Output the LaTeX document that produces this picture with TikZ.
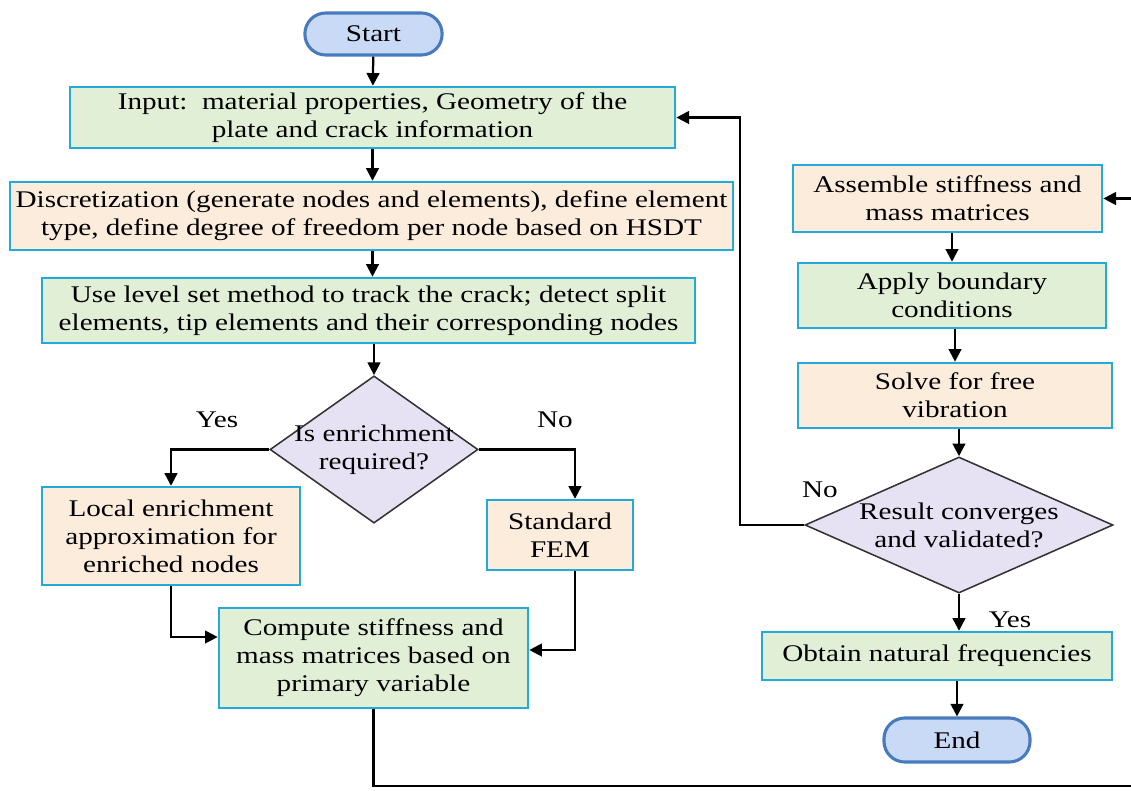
\documentclass[tikz,border=0pt]{standalone}
\usepackage{fontspec}
\setmainfont{Liberation Serif}[FakeStretch=1.22]
\usepackage{tikz}
\usetikzlibrary{shapes.geometric,arrows.meta,calc}
\definecolor{G}{RGB}{226,239,215}
\definecolor{P}{RGB}{252,236,220}
\definecolor{C}{RGB}{36,170,216}
\definecolor{D}{RGB}{230,226,243}
\definecolor{B}{RGB}{200,218,245}
\definecolor{BE}{RGB}{72,122,190}
\tikzset{
  base/.style={font=\fontsize{17}{20}\selectfont, align=center, inner sep=0pt},
  gbox/.style={base, draw=C, fill=G, line width=1.7pt},
  pbox/.style={base, draw=C, fill=P, line width=1.7pt},
  term/.style={base, draw=BE, fill=B, line width=2.2pt, rounded corners=0.52cm},
  dec/.style={base, diamond, draw=black!80, fill=D, line width=1.1pt},
  arr/.style={line width=1.6pt, -{Triangle[length=9pt,width=9pt]}},
  lbl/.style={base}
}

\begin{document}
\begin{tikzpicture}[x=0.025cm,y=-0.025cm]
\useasboundingbox (0,0) rectangle (1131,790);
% left column
\node[term, minimum width=3.43cm, minimum height=1.05cm] (start) at (373.5,34) {Start};
\node[gbox, minimum width=15.13cm, minimum height=1.53cm] (inp) at (372.5,117.5) {Input:\ \ material properties, Geometry of the\\plate and crack information};
\node[pbox, minimum width=18.08cm, minimum height=1.7cm] (disc) at (371.5,216) {Discretization (generate nodes and elements), define element\\type, define degree of freedom per node based on HSDT};
\node[gbox, minimum width=16.33cm, minimum height=1.63cm] (lvl) at (368.5,310.5) {Use level set method to track the crack; detect split\\elements, tip elements and their corresponding nodes};
\node[dec, minimum width=5.2cm, minimum height=3.68cm, label={[base]center:Is enrichment\\required?}] (enr) at (374,449.5) {};
\node[pbox, minimum width=6.45cm, minimum height=2.45cm] (loc) at (171,536) {Local enrichment\\approximation for\\enriched nodes};
\node[pbox, minimum width=3.65cm, minimum height=1.75cm] (fem) at (560,535) {Standard\\FEM};
\node[gbox, minimum width=7.73cm, minimum height=2.5cm] (cmp) at (373.5,658) {Compute stiffness and\\mass matrices based on\\primary variable};
\node[lbl] (yes1) at (217,420) {Yes};
\node[lbl] (no1) at (555,420) {No};
% right column
\node[pbox, minimum width=7.73cm, minimum height=1.68cm] (asm) at (947.5,198.5) {Assemble stiffness and\\mass matrices};
\node[gbox, minimum width=7.7cm, minimum height=1.63cm] (bc) at (952,295.5) {Apply boundary\\conditions};
\node[pbox, minimum width=7.85cm, minimum height=1.63cm] (slv) at (955,395.5) {Solve for free\\vibration};
\node[dec, minimum width=7.7cm, minimum height=3.4cm, label={[base]center:Result converges\\and validated?}] (cnv) at (959,525) {};
\node[gbox, minimum width=8.75cm, minimum height=1.2cm] (frq) at (937,656) {Obtain natural frequencies};
\node[term, minimum width=3.65cm, minimum height=1.1cm] (end) at (957,740) {End};
\node[lbl] (no2) at (820,490) {No};
\node[lbl] (yes2) at (1010,620) {Yes};
\coordinate (back) at (740,0);
\coordinate (low) at (0,786);
\coordinate (edge) at (1150,0);
% connectors
\draw[arr] (start) -- (inp);
\draw[arr] (inp) -- (inp |- disc.north);
\draw[arr] (disc.south -| inp) -- (lvl.north -| inp);
\draw[arr] (lvl.south -| enr) -- (enr.north);
\draw[arr] (enr.west) -| (loc.north);
\draw[arr] (enr.east) -| ($(fem.north)+(15,0)$);
\draw[arr] (loc.south) |- ($(cmp.west)+(0,-21)$);
\draw[arr] ($(fem.south)+(15,0)$) |- ($(cmp.east)+(0,-8)$);
\draw[arr] (cmp.south) -- (cmp.south |- low) -| (edge) |- (asm.east);
\draw[arr] (asm.south -| bc) -- (bc.north);
\draw[arr] (bc.south -| slv) -- (slv.north);
\draw[arr] (slv.south -| cnv) -- (cnv.north);
\draw[arr] (cnv.west) -- (cnv.west -| back) |- (inp.east);
\draw[arr] (cnv.south) -- (cnv.south |- frq.north);
\draw[arr] (frq.south -| end) -- (end.north);
\end{tikzpicture}
\end{document}
